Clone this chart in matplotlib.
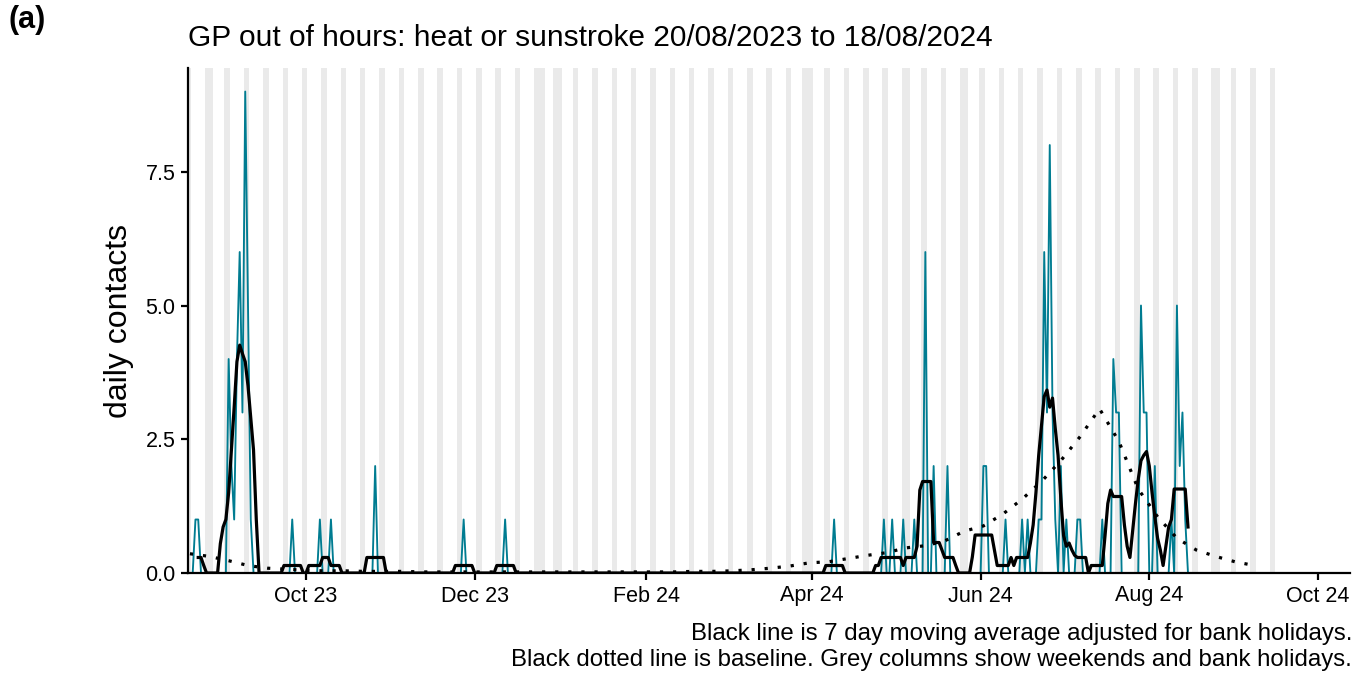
import pandas as pd
import matplotlib
matplotlib.use("Agg")
import matplotlib.pyplot as plt
import matplotlib.dates as mdates

plt.rcParams['font.family'] = ['Liberation Sans', 'DejaVu Sans']

# daily contacts, only the non-zero days are listed
spike_dates = ['2023-08-22', '2023-08-23',
               '2023-09-03', '2023-09-04', '2023-09-05', '2023-09-06', '2023-09-07',
               '2023-09-08', '2023-09-09', '2023-09-10', '2023-09-11',
               '2023-09-26', '2023-10-06', '2023-10-10', '2023-10-26',
               '2023-11-27', '2023-12-12',
               '2024-04-09', '2024-04-27', '2024-04-30', '2024-05-04', '2024-05-08',
               '2024-05-12', '2024-05-15', '2024-05-20',
               '2024-06-02', '2024-06-03', '2024-06-10', '2024-06-16', '2024-06-18',
               '2024-06-22', '2024-06-23', '2024-06-24', '2024-06-25', '2024-06-26',
               '2024-06-27', '2024-06-28', '2024-06-30', '2024-07-02',
               '2024-07-06', '2024-07-07', '2024-07-15', '2024-07-19', '2024-07-20',
               '2024-07-21', '2024-07-29', '2024-07-30', '2024-07-31', '2024-08-03',
               '2024-08-09', '2024-08-11', '2024-08-12', '2024-08-13', '2024-08-14']
spike_values = [1, 1,
                4, 2, 1, 4, 6,
                3, 9, 5, 1,
                1, 1, 1, 2,
                1, 1,
                1, 1, 1, 1, 1,
                6, 2, 2,
                2, 2, 1, 1, 1,
                1, 1, 6, 3, 8,
                3, 1, 2, 1,
                1, 1, 1, 4, 3,
                3, 5, 3, 3, 2,
                1, 5, 2, 3, 1]

first_day = '2023-08-20'
last_day = '2024-08-18'

# 7 day moving average (zero between the segments)
ma_first = '2023-08-23'
ma_last = '2024-08-15'
ma_seg_starts = ['2023-08-23', '2023-08-31', '2023-09-23', '2023-10-02', '2023-10-23',
                 '2023-11-24', '2023-12-09', '2024-04-06', '2024-04-24', '2024-05-29',
                 '2024-07-11']
ma_seg_values = [
    [0.29, 0.29, 0.14],
    [0.55, 0.86, 1.0, 1.5, 2.3, 3.1, 3.95, 4.26, 4.1, 3.95, 3.5, 2.9, 2.3, 1.0],
    [0.14, 0.14, 0.14, 0.14, 0.14, 0.14, 0.14],
    [0.14, 0.14, 0.14, 0.14, 0.14, 0.29, 0.29, 0.29, 0.14, 0.14, 0.14, 0.14],
    [0.29, 0.29, 0.29, 0.29, 0.29, 0.29, 0.29],
    [0.14, 0.14, 0.14, 0.14, 0.14, 0.14, 0.14],
    [0.14, 0.14, 0.14, 0.14, 0.14, 0.14, 0.14],
    [0.14, 0.14, 0.14, 0.14, 0.14, 0.14, 0.14],
    [0.14, 0.14, 0.29, 0.29, 0.29, 0.29, 0.29, 0.29, 0.29, 0.29, 0.14, 0.29, 0.29,
     0.29, 0.29, 0.5, 1.55, 1.71, 1.71, 1.71, 1.71, 0.57, 0.57, 0.57, 0.43, 0.29,
     0.29, 0.29, 0.29, 0.14],
    [0.3, 0.71, 0.71, 0.71, 0.71, 0.71, 0.71, 0.71, 0.43, 0.14, 0.14, 0.14, 0.14,
     0.14, 0.29, 0.14, 0.29, 0.29, 0.29, 0.29, 0.29,
     0.56, 0.9, 1.5, 2.2, 2.74, 3.3, 3.42, 3.1, 3.27, 2.7, 2.2, 1.4, 0.7, 0.5, 0.56,
     0.43, 0.33, 0.29, 0.29, 0.29, 0.29],
    [0.14, 0.14, 0.14, 0.14, 0.14, 0.7, 1.3, 1.55, 1.43, 1.43, 1.43, 1.43, 0.9, 0.5,
     0.29, 0.8, 1.3, 1.75, 2.1, 2.2, 2.27,
     2.0, 1.5, 1.05, 0.65, 0.43, 0.14, 0.5, 0.86, 1.0, 1.57, 1.57, 1.57, 1.57, 1.57,
     0.86],
]

# baseline
baseline_start = '2023-08-20'
baseline_values = [0.36, 0.31, 0.23, 0.14, 0.09, 0.07, 0.05, 0.04, 0.04, 0.03,
                   0.03, 0.03, 0.02, 0.02, 0.02, 0.02, 0.02, 0.02, 0.02, 0.02,
                   0.02, 0.02, 0.02, 0.02, 0.02, 0.02, 0.03, 0.03, 0.04, 0.06,
                   0.09, 0.13, 0.19, 0.21, 0.27, 0.33, 0.38, 0.47, 0.51, 0.60,
                   0.78, 0.88, 1.10, 1.38, 1.71, 2.10, 2.55, 3.07, 2.46, 1.57,
                   1.05, 0.65, 0.43, 0.31, 0.21, 0.14]

bank_holidays = ['2023-08-28', '2023-12-25', '2023-12-26', '2024-01-01',
                 '2024-03-29', '2024-04-01', '2024-05-06', '2024-05-27',
                 '2024-08-26']
shade_start = '2023-08-19'
shade_end = '2024-09-15'

x_ticks = ['2023-10-01', '2023-12-01', '2024-02-01', '2024-04-01',
           '2024-06-01', '2024-08-01', '2024-10-01']

teal = '#007C91'
grey = '#EAEAEA'

days = pd.date_range(first_day, last_day, freq='D')
daily = pd.Series(0.0, index=days)
daily[pd.to_datetime(spike_dates)] = spike_values

ma7 = pd.Series(0.0, index=pd.date_range(ma_first, ma_last, freq='D'))
for st, vals in zip(ma_seg_starts, ma_seg_values):
    ma7[pd.date_range(st, periods=len(vals), freq='D')] = vals

base_dates = pd.date_range(baseline_start, periods=len(baseline_values), freq='7D')

fig = plt.figure(figsize=(13.65, 6.75), dpi=100)
ax = fig.add_axes([188 / 1365, 1 - 573 / 675, (1350 - 188) / 1365, (573 - 68) / 675])

# grey columns: weekends and bank holidays
shade_days = pd.date_range(shade_start, shade_end, freq='D')
hol = pd.to_datetime(bank_holidays)
for d in shade_days:
    if d.dayofweek >= 5 or d in hol:
        ax.axvspan(d - pd.Timedelta(hours=12), d + pd.Timedelta(hours=12),
                   color=grey, lw=0, zorder=0)

ax.plot(daily.index, daily.values, color=teal, lw=1.35, zorder=2)
ax.plot(base_dates, baseline_values, color='black', lw=2.3,
        linestyle=(0, (1, 3.1)), zorder=3)
ax.plot(ma7.index, ma7.values, color='black', lw=2.3, zorder=4)

ax.set_xlim(pd.Timestamp('2023-10-01') - pd.Timedelta(days=42.7),
            pd.Timestamp('2023-10-01') + pd.Timedelta(days=377.6))
ax.set_ylim(0, 9.44)
ax.set_xticks(pd.to_datetime(x_ticks))
ax.xaxis.set_major_formatter(mdates.DateFormatter('%b %y'))
ax.set_yticks([0, 2.5, 5, 7.5])
ax.set_yticklabels(['0.0', '2.5', '5.0', '7.5'])

for s in ['top', 'right']:
    ax.spines[s].set_visible(False)
for s in ['left', 'bottom']:
    ax.spines[s].set_linewidth(1.6)
ax.tick_params(axis='both', length=5, width=1.6, labelsize=15.5, colors='black', pad=4)

ax.set_ylabel('daily contacts', fontsize=23, labelpad=8)

fig.text(188 / 1365, 1 - 38 / 675, 'GP out of hours: heat or sunstroke 20/08/2023 to 18/08/2024',
         fontsize=21.5, ha='left', va='center')
fig.text(8 / 1365, 1 - 20 / 675, '(a)', fontsize=22, fontweight='bold', ha='left', va='center')
fig.text(1352 / 1365, 1 - 634 / 675,
         'Black line is 7 day moving average adjusted for bank holidays.',
         fontsize=17.3, ha='right', va='center')
fig.text(1352 / 1365, 1 - 660 / 675,
         'Black dotted line is baseline. Grey columns show weekends and bank holidays.',
         fontsize=17.3, ha='right', va='center')

fig.savefig('out.png', dpi=100)
